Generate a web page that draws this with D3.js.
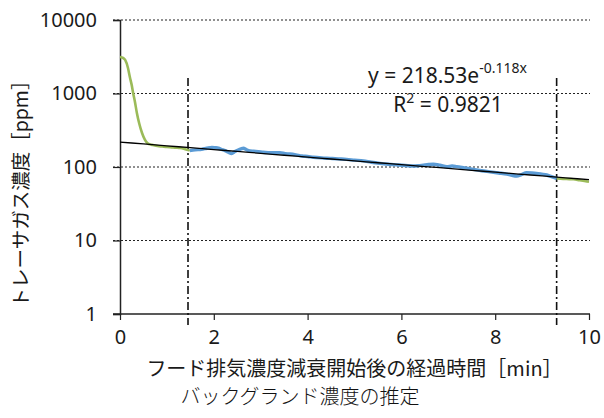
<!DOCTYPE html>
<html>
<head>
<meta charset="utf-8">
<script src="https://cdn.jsdelivr.net/npm/d3@7"></script>
<style>
  html, body { margin: 0; padding: 0; background: #fff; }
  svg { display: block; }
</style>
</head>
<body>
<svg id="chart" width="604" height="418"></svg>
<script>
// Tracer gas concentration after the hood exhaust starts to decay
// Early and late portions (outside the fitting window)
const greenEarlyTime = [0, 0.05, 0.11, 0.17, 0.21, 0.25, 0.28, 0.32, 0.36, 0.41, 0.47, 0.53, 0.58, 0.64, 0.70, 0.80, 0.90, 1.00, 1.10, 1.20, 1.28, 1.36, 1.43, 1.49];
const greenEarlyConc = [3140, 3080, 2860, 2220, 1675, 1300, 1016, 760, 543, 390, 290, 235, 212, 203, 199, 193, 190, 187, 185, 183, 181, 177, 172, 167];

// Fitting window (measured)
const blueTime = [1.49, 1.60, 1.74, 1.85, 1.96, 2.03, 2.10, 2.17, 2.24, 2.31, 2.38, 2.45, 2.52, 2.58, 2.63, 2.69, 2.74, 2.85, 2.95, 3.05, 3.16, 3.28, 3.41, 3.52, 3.62, 3.75, 3.88, 4.00, 4.12, 4.30, 4.48, 4.65, 4.83, 5.00, 5.19, 5.36, 5.54, 5.72, 5.90, 6.08, 6.25, 6.36, 6.47, 6.58, 6.68, 6.82, 6.97, 7.08, 7.18, 7.35, 7.53, 7.71, 7.89, 8.07, 8.25, 8.36, 8.46, 8.56, 8.67, 8.78, 8.88, 8.99, 9.10, 9.20, 9.31];
const blueConc = [167, 171, 174, 180, 185, 183, 180, 173, 167, 159, 153, 162, 170, 176, 180, 173, 167, 164, 162, 159, 157, 156, 157, 152, 150, 146, 141, 139, 136, 133, 131, 129, 127, 124, 121, 116, 112, 109, 107, 105, 103, 104, 106, 108, 109, 106, 101, 103, 101, 97, 93, 89, 86, 83, 80, 77, 75.5, 79, 83.5, 83, 82, 80, 77.8, 74, 70];

const greenLateTime = [9.31, 9.45, 9.58, 9.67, 9.80, 9.90, 10.0];
const greenLateConc = [70, 69, 68.5, 68, 66, 64.5, 63];

// Exponential fit y = a·e^(b·x)
const fitA = 218.53;
const fitB = -0.118;
const fitR2 = 0.9821;
const fitTime = d3.range(0, 10.001, 0.25);

// Boundaries of the fitting window
const windowBounds = [1.45, 9.31];

// Axis ticks
const xTicks = [0, 2, 4, 6, 8, 10];
const yTicks = [1, 10, 100, 1000, 10000];

const xLabel = "フード排気濃度減衰開始後の経過時間［min］";
const yLabel = "トレーサガス濃度［ppm］";
const caption = "バックグランド濃度の推定";

const svg = d3.select("#chart");
const plot = { left: 120, right: 589, top: 20, bottom: 314 };

const x = d3.scaleLinear().domain([0, 10]).range([plot.left, plot.right]);
const y = d3.scaleLog().domain([1, 10000]).range([plot.bottom, plot.top]);

const latin = "'Noto Sans', 'DejaVu Sans', sans-serif";
const cjk = "'Noto Sans CJK JP', 'Noto Sans', sans-serif";

// Dotted horizontal gridlines
svg.append("g")
  .selectAll("line")
  .data(yTicks.filter(v => v > 1))
  .join("line")
  .attr("x1", plot.left - 7)
  .attr("x2", plot.right + 1)
  .attr("y1", d => y(d))
  .attr("y2", d => y(d))
  .attr("stroke", "#222")
  .attr("stroke-width", 1.2)
  .attr("stroke-dasharray", "2,2");

// Y axis
const yAxis = svg.append("g")
  .attr("transform", `translate(${plot.left},0)`)
  .call(d3.axisLeft(y).tickValues(yTicks).tickFormat(d3.format("d")).tickSize(7).tickPadding(16));
yAxis.select(".domain").attr("stroke", "#222").attr("stroke-width", 1.5);
yAxis.selectAll(".tick line").attr("stroke", "#222").attr("stroke-width", 1.2);
yAxis.selectAll(".tick text")
  .attr("font-family", latin)
  .attr("font-size", 20)
  .attr("fill", "#1a1a1a");

// X axis
const xAxis = svg.append("g")
  .attr("transform", `translate(0,${plot.bottom})`)
  .call(d3.axisBottom(x).tickValues(xTicks).tickFormat(d3.format("d")).tickSize(6).tickPadding(10));
xAxis.select(".domain").attr("stroke", "#222").attr("stroke-width", 1.5)
  .attr("d", `M${plot.left - 7},0H${plot.right + 1}`);
xAxis.selectAll(".tick line").attr("stroke", "#222").attr("stroke-width", 1.2);
xAxis.selectAll(".tick text")
  .attr("font-family", latin)
  .attr("font-size", 20)
  .attr("fill", "#1a1a1a");

// Dash-dot bounds of the fitting window
svg.append("g")
  .selectAll("line")
  .data(windowBounds)
  .join("line")
  .attr("x1", d => x(d))
  .attr("x2", d => x(d))
  .attr("y1", 78)
  .attr("y2", plot.bottom + 11)
  .attr("stroke", "#111")
  .attr("stroke-width", 1.6)
  .attr("stroke-dasharray", "8,3,2,3");

const line = d3.line().x(d => x(d[0])).y(d => y(d[1])).curve(d3.curveMonotoneX);

// Measured data outside the window
[[greenEarlyTime, greenEarlyConc], [greenLateTime, greenLateConc]].forEach(([t, c]) => {
  svg.append("path")
    .datum(t.map((v, i) => [v, c[i]]))
    .attr("fill", "none")
    .attr("stroke", "#9bbb59")
    .attr("stroke-width", 2.6)
    .attr("d", line);
});

// Measured data inside the window
svg.append("path")
  .datum(blueTime.map((v, i) => [v, blueConc[i]]))
  .attr("fill", "none")
  .attr("stroke", "#5b9bd5")
  .attr("stroke-width", 3.4)
  .attr("stroke-linejoin", "round")
  .attr("d", line);

// Fitted exponential curve
svg.append("path")
  .datum(fitTime.map(t => [t, fitA * Math.exp(fitB * t)]))
  .attr("fill", "none")
  .attr("stroke", "#000")
  .attr("stroke-width", 1.3)
  .attr("d", d3.line().x(d => x(d[0])).y(d => y(d[1])));

// Fit equation
const eq = svg.append("text")
  .attr("x", 368)
  .attr("y", 83)
  .attr("font-family", latin)
  .attr("font-size", 21)
  .attr("fill", "#1a1a1a");
eq.append("tspan").text(`y = ${fitA}e`);
eq.append("tspan").attr("dy", -10).attr("font-size", 14).text(`-${Math.abs(fitB)}x`);

const r2 = svg.append("text")
  .attr("x", 448)
  .attr("y", 112)
  .attr("text-anchor", "middle")
  .attr("font-family", latin)
  .attr("font-size", 21)
  .attr("fill", "#1a1a1a");
r2.append("tspan").text("R");
r2.append("tspan").attr("dy", -9).attr("font-size", 14).text("2");
r2.append("tspan").attr("dy", 9).text(` = ${fitR2}`);

// Axis titles
svg.append("text")
  .attr("x", (plot.left + plot.right) / 2)
  .attr("y", 376)
  .attr("text-anchor", "middle")
  .attr("font-family", cjk)
  .attr("font-size", 20)
  .attr("fill", "#1a1a1a")
  .text(xLabel);

svg.append("text")
  .attr("transform", `translate(28,189) rotate(-90)`)
  .attr("text-anchor", "middle")
  .attr("font-family", cjk)
  .attr("font-size", 19.5)
  .attr("fill", "#1a1a1a")
  .text(yLabel);

// Caption
svg.append("text")
  .attr("x", 300)
  .attr("y", 404)
  .attr("text-anchor", "middle")
  .attr("font-family", cjk)
  .attr("font-weight", 300)
  .attr("font-size", 20)
  .attr("fill", "#111")
  .text(caption);
</script>
</body>
</html>
